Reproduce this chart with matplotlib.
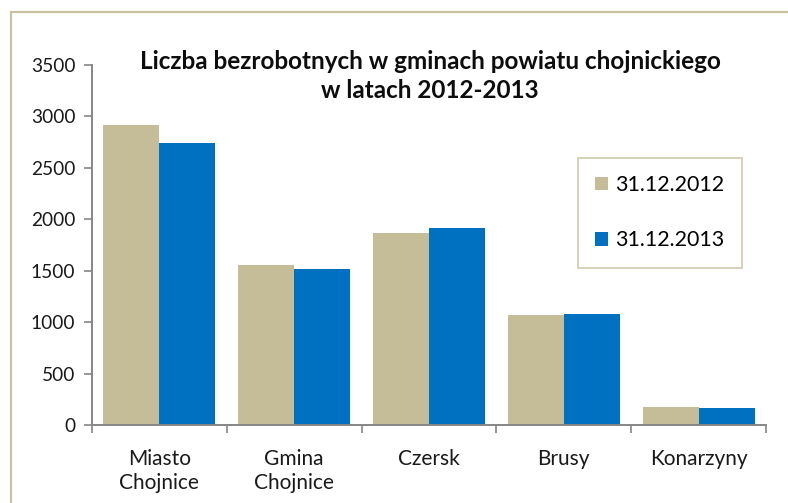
import matplotlib.pyplot as plt
import matplotlib.patches as mpatches
import numpy as np

# dane z wykresu
gminy = ['Miasto\nChojnice', 'Gmina\nChojnice', 'Czersk', 'Brusy', 'Konarzyny']
bezrobotni_2012 = [2915, 1557, 1862, 1072, 175]
bezrobotni_2013 = [2740, 1521, 1914, 1079, 166]
serie = ['31.12.2012', '31.12.2013']
yticks = [0, 500, 1000, 1500, 2000, 2500, 3000, 3500]

plt.rcParams['font.family'] = ['Lato', 'DejaVu Sans']

W, H = 788, 503
fig = plt.figure(figsize=(W / 100, H / 100), dpi=100)

# ramka wykresu (jak w Excelu)
fig.patches.append(mpatches.Rectangle((11 / W, -0.1), 1.2, 1 - 12 / H + 0.1,
                                      transform=fig.transFigure, fill=False,
                                      edgecolor='#c9c29f', linewidth=1.6))

ax = fig.add_axes([92 / W, 78 / H, (766 - 92) / W, (425 - 65) / H])

x = np.arange(len(gminy))
w = 0.415
ax.bar(x - w / 2, bezrobotni_2012, w, color='#c4bd97', label=serie[0])
ax.bar(x + w / 2, bezrobotni_2013, w, color='#0070c0', label=serie[1])

ax.set_xlim(-0.5, len(gminy) - 0.5)
ax.set_ylim(0, 3500)
ax.set_yticks(yticks)
ax.set_yticklabels([str(v) for v in yticks], fontsize=13.8, color='#1a1a1a')

ax.set_xticks(np.arange(-0.5, len(gminy), 1))
ax.set_xticklabels([])
ax.set_xticks(x, minor=True)
ax.set_xticklabels(gminy, minor=True, fontsize=15, color='#1a1a1a',
                   linespacing=1.3)
ax.tick_params(axis='x', which='minor', length=0, pad=17)
ax.tick_params(axis='x', which='major', length=6, width=1.2, color='#868686')
ax.tick_params(axis='y', length=6, width=1.2, color='#868686', pad=6)

for s in ['top', 'right']:
    ax.spines[s].set_visible(False)
for s in ['left', 'bottom']:
    ax.spines[s].set_color('#868686')
    ax.spines[s].set_linewidth(1.4)

fig.text(430 / W, 1 - 76 / H,
         'Liczba bezrobotnych w gminach powiatu chojnickiego\nw latach 2012-2013',
         ha='center', va='center', fontsize=17.5, fontweight='bold',
         linespacing=1.3, color='#0d0d0d')

leg = ax.legend(loc='upper left', bbox_to_anchor=(578 / W, 1 - 158 / H),
                bbox_transform=fig.transFigure, fontsize=15.4, frameon=True,
                fancybox=False, borderaxespad=0, borderpad=0.8,
                labelspacing=1.65, handlelength=0.6, handleheight=0.6,
                handletextpad=0.35)
leg.get_frame().set_edgecolor('#c9c29f')
leg.get_frame().set_linewidth(1.3)

fig.savefig('out.png', dpi=100)
